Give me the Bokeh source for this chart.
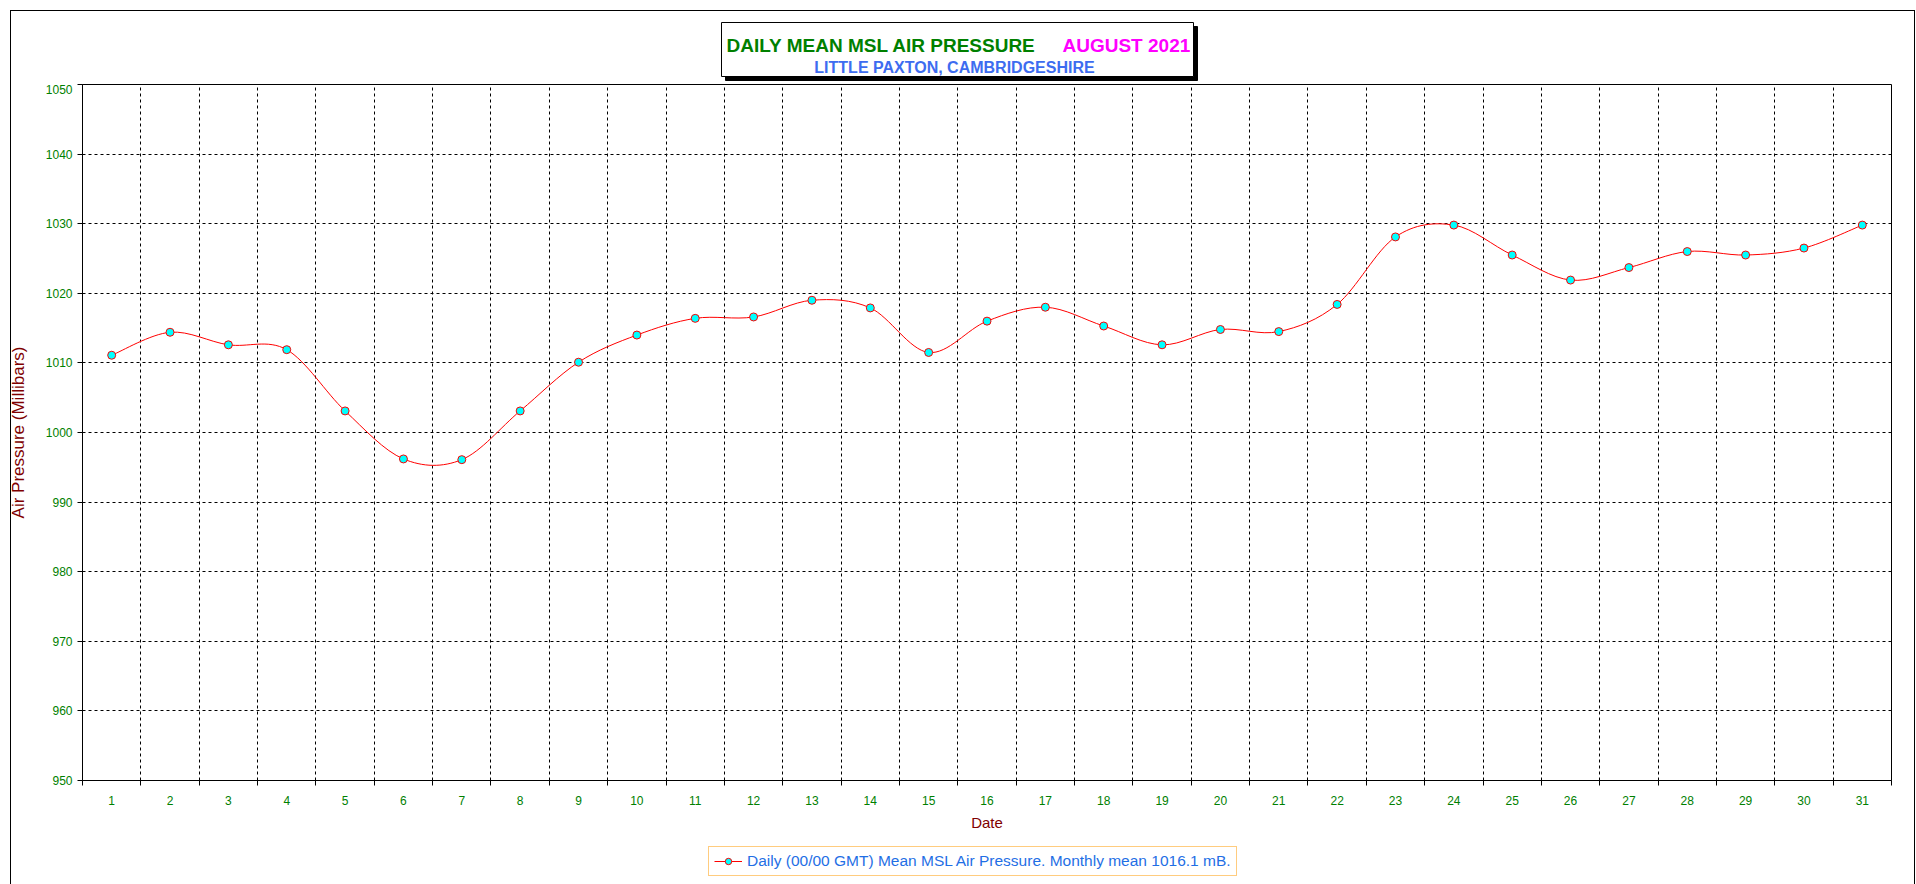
from bokeh.plotting import figure
from bokeh.layouts import column
from bokeh.models import (Range1d, FixedTicker, Legend, LegendItem, ColumnDataSource, Div)
from bokeh.core.properties import value
from bokeh.embed import file_html
from bokeh.resources import INLINE

# ---------------- data ----------------
days = list(range(1, 32))
pressure = [1011.1, 1014.4, 1012.6, 1011.9, 1003.1, 996.2, 996.1, 1003.1, 1010.1, 1014.0,
            1016.4, 1016.6, 1019.0, 1017.9, 1011.5, 1016.0, 1018.0, 1015.3, 1012.6, 1014.8,
            1014.5, 1018.4, 1028.1, 1029.8, 1025.5, 1021.9, 1023.7, 1026.0, 1025.5, 1026.5,
            1029.8]
y_ticks = list(range(950, 1051, 10))
title_main = "DAILY MEAN MSL AIR PRESSURE"
title_month = "AUGUST 2021"
subtitle = "LITTLE PAXTON, CAMBRIDGESHIRE"
legend_label = "Daily (00/00 GMT) Mean MSL Air Pressure. Monthly mean 1016.1 mB."
x_title = "Date"
y_title = "Air Pressure (Millibars)"

FONT = "Liberation Sans"
GREEN = "#008000"
MAROON = "#800000"
W = 1916
BL, BR = 82, 25          # left / right borders shared by all three stacked figures
FX0, FX1 = BL, W - BR    # page x of the plot frame

def blank(height):
    f = figure(width=W, height=height, output_backend="svg", toolbar_location=None,
               x_range=Range1d(FX0, FX1), y_range=Range1d(height, 0),
               x_axis_type=None, y_axis_type=None,
               min_border_left=BL, min_border_right=BR,
               min_border_top=0, min_border_bottom=0,
               background_fill_color="white", border_fill_color="white")
    f.outline_line_color = None
    f.grid.visible = False
    return f

# ---------------- header (title box) ----------------
hdr = blank(84)
hdr.quad(left=[725], right=[1197], top=[26], bottom=[80], fill_color="black",
         line_color="black")
hdr.quad(left=[721], right=[1193], top=[22], bottom=[76], fill_color="white",
         line_color="black", line_width=1)
hdr.text(x=[726], y=[45], text=[title_main], text_font=value(FONT),
         text_font_size="19px", text_font_style="bold", text_color=GREEN,
         text_align="left", text_baseline="alphabetic")
hdr.text(x=[1062], y=[45], text=[title_month], text_font=value(FONT),
         text_font_size="19px", text_font_style="bold", text_color="#FF00FF",
         text_align="left", text_baseline="alphabetic")
hdr.text(x=[954], y=[67], text=[subtitle], text_font=value(FONT),
         text_font_size="16px", text_font_style="bold", text_color="#3D6CF0",
         text_align="center", text_baseline="alphabetic")

# ---------------- main chart ----------------
p = figure(width=W, height=756, output_backend="svg", toolbar_location=None,
           x_range=Range1d(0.5, 31.5), y_range=Range1d(950, 1050),
           min_border_left=BL, min_border_right=BR, min_border_top=0, min_border_bottom=60,
           background_fill_color="white", border_fill_color="white")
p.outline_line_color = "black"
p.outline_line_width = 1

xt = FixedTicker(ticks=days, minor_ticks=[d - 0.5 for d in days] + [days[-1] + 0.5])
p.xaxis.ticker = xt
p.xgrid.ticker = xt
p.xaxis.major_tick_out = 0
p.xaxis.major_tick_in = 0
p.xaxis.minor_tick_out = 5
p.xaxis.minor_tick_in = 0
p.xaxis.minor_tick_line_color = "black"
p.xaxis.major_label_standoff = 10
p.xaxis.axis_label = x_title
p.xaxis.axis_label_standoff = 6
p.xaxis.axis_label_text_font_size = "15px"

yt = FixedTicker(ticks=y_ticks)
p.yaxis.ticker = yt
p.ygrid.ticker = yt
p.yaxis.major_tick_out = 5
p.yaxis.major_tick_in = 0
p.yaxis.minor_tick_line_color = None
p.yaxis.major_label_standoff = 5
p.yaxis.axis_label = y_title
p.yaxis.axis_label_standoff = 15
p.yaxis.axis_label_text_font_size = "17px"

for ax in (p.xaxis, p.yaxis):
    ax.axis_line_color = "black"
    ax.major_tick_line_color = "black"
    ax.major_label_text_font = FONT
    ax.major_label_text_font_size = "12px"
    ax.major_label_text_color = GREEN
    ax.axis_label_text_font = FONT
    ax.axis_label_text_font_style = "normal"
    ax.axis_label_text_color = MAROON

p.xgrid.grid_line_color = None
p.xgrid.minor_grid_line_color = "black"
p.xgrid.minor_grid_line_dash = "3 3"
p.xgrid.minor_grid_line_width = 1
p.ygrid.grid_line_color = "black"
p.ygrid.grid_line_dash = "3 3"
p.ygrid.grid_line_width = 1

# smoothed line: Bezier segments with control points from neighbouring data points
n = len(days)
def pt(i):
    i = max(0, min(n - 1, i))
    return days[i], pressure[i]

segs = dict(x0=[], y0=[], x1=[], y1=[], cx0=[], cy0=[], cx1=[], cy1=[])
for i in range(n - 1):
    xa, ya = pt(i - 1)
    xb, yb = pt(i)
    xc, yc = pt(i + 1)
    xd, yd = pt(i + 2)
    segs["x0"].append(xb); segs["y0"].append(yb)
    segs["x1"].append(xc); segs["y1"].append(yc)
    segs["cx0"].append(xb + (xc - xa) / 6.0); segs["cy0"].append(yb + (yc - ya) / 6.0)
    segs["cx1"].append(xc - (xd - xb) / 6.0); segs["cy1"].append(yc - (yd - yb) / 6.0)

curve = p.bezier(x0="x0", y0="y0", x1="x1", y1="y1", cx0="cx0", cy0="cy0",
                 cx1="cx1", cy1="cy1", source=ColumnDataSource(segs),
                 line_color="#FF0000", line_width=1)
dots = p.scatter(days, pressure, marker="circle", size=8, fill_color="#00FFFF",
                 line_color="#FF0000", line_width=1)

# ---------------- footer (legend) ----------------
FH = 43
ftr = blank(FH)
# legend proxies: same series and styling, not drawn in the footer itself
leg_line = ftr.line(days, pressure, line_color="#FF0000", line_width=1, visible=False)
leg_dot = ftr.scatter(days, pressure, marker="circle", size=8, fill_color="#00FFFF",
                      line_color="#FF0000", line_width=1, visible=False)
legend = Legend(items=[LegendItem(label=legend_label, renderers=[leg_line, leg_dot])],
                location=(708 - FX0, 7), orientation="vertical",
                border_line_color="#FF9900", border_line_width=1,
                background_fill_color="white", background_fill_alpha=1,
                label_text_font=FONT, label_text_font_size="15.5px",
                label_text_color="#1F6FE5", glyph_width=28, glyph_height=16,
                label_height=16, label_standoff=5, padding=5, margin=0, spacing=0,
                click_policy="none")
ftr.add_layout(legend)

# outer chart border (page decoration, drawn above the canvases)
frame_div = Div(text="", width=0, height=0,
                styles={"position": "absolute", "left": "5px", "top": "5px",
                        "width": "1905px", "height": "875px",
                        "border": "1px solid black", "box-sizing": "border-box",
                        "z-index": "10", "pointer-events": "none",
                        "background": "transparent"})

layout = column(hdr, p, ftr, frame_div, spacing=0)

open("out.html", "w").write(file_html(layout, INLINE))
